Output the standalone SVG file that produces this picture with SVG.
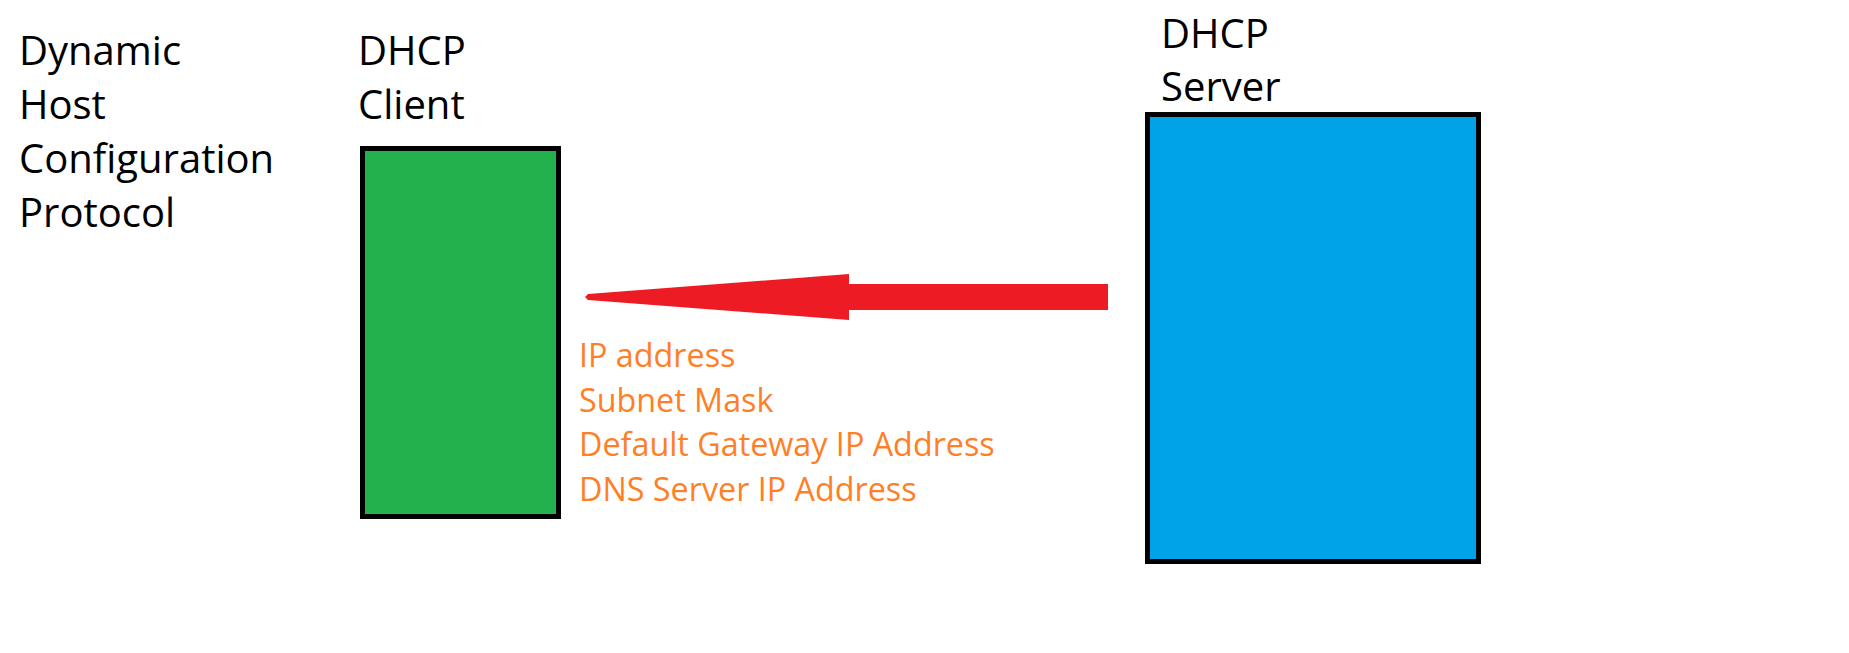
<svg xmlns="http://www.w3.org/2000/svg" width="1849" height="653" viewBox="0 0 1849 653">
<style>
.t{font-family:"Open Sans","Noto Sans","Liberation Sans",sans-serif;font-size:40px;fill:#000}
.o{font-family:"Open Sans","Noto Sans","Liberation Sans",sans-serif;font-size:32.3px;fill:#FF7F27}
.box{stroke:#000;stroke-width:5}
</style>
<rect width="1849" height="653" fill="#fff"/>
<g id="title">
<text class="t" x="19" y="65">Dynamic</text>
<text class="t" x="19" y="119">Host</text>
<text class="t" x="19" y="173">Configuration</text>
<text class="t" x="19" y="227">Protocol</text>
</g>
<g id="client">
<text class="t" x="358" y="65">DHCP</text>
<text class="t" x="358" y="119">Client</text>
<rect class="box" x="362.5" y="148.5" width="196" height="368" fill="#22B14C"/>
</g>
<g id="server">
<text class="t" x="1161" y="48">DHCP</text>
<text class="t" x="1161" y="101">Server</text>
<rect class="box" x="1147.5" y="114.5" width="331" height="447" fill="#00A2E8"/>
</g>
<g id="connectors">
<path d="M1108,284 L849,284 L849,274 L588,294 L585,297 L588,300 L849,320 L849,310 L1108,310 Z" fill="#ED1C24"/>
</g>
<g id="labels">
<text class="o" x="579" y="367">IP address</text>
<text class="o" x="579" y="412">Subnet Mask</text>
<text class="o" x="579" y="456">Default Gateway IP Address</text>
<text class="o" x="579" y="501">DNS Server IP Address</text>
</g>
</svg>
